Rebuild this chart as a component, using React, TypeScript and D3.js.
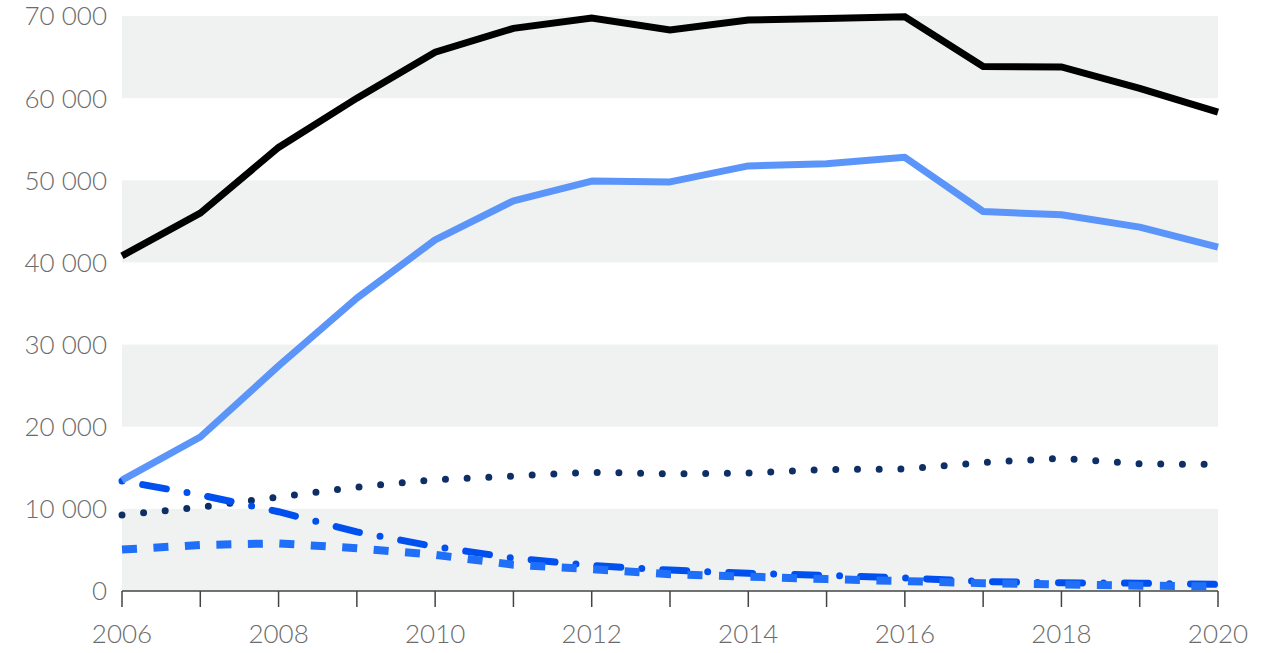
import React from "react";
import * as d3 from "d3";

const years = [2006, 2007, 2008, 2009, 2010, 2011, 2012, 2013, 2014, 2015, 2016, 2017, 2018, 2019, 2020];
const total = [40800, 46000, 54000, 60000, 65600, 68500, 69750, 68300, 69500, 69700, 69900, 63850, 63800, 61200, 58300];
const lightBlue = [13500, 18750, 27400, 35650, 42750, 47500, 49900, 49800, 51750, 52000, 52800, 46200, 45800, 44300, 41850];
const dotted = [9250, 10200, 11450, 12650, 13550, 14000, 14450, 14250, 14350, 14800, 14850, 15650, 16150, 15500, 15400];
const dashDot = [13400, 11700, 9650, 7200, 5400, 4000, 3100, 2550, 2150, 1900, 1600, 1150, 1000, 950, 800];
const dashed = [5050, 5600, 5800, 5200, 4400, 3200, 2650, 2050, 1750, 1450, 1200, 950, 800, 650, 550];
const yTicks = [0, 10000, 20000, 30000, 40000, 50000, 60000, 70000];
const xLabels = [2006, 2008, 2010, 2012, 2014, 2016, 2018, 2020];

export default function App() {
  const W = 1281, H = 653;
  const x = d3.scaleLinear().domain([2006, 2020]).range([122, 1218]);
  const y = d3.scaleLinear().domain([0, 70000]).range([591, 16]);
  const fmt = (v: number) => (v === 0 ? "0" : d3.format(",")(v).replace(/,/g, " "));
  const line = (vals: number[]) =>
    d3.line<number>().x((_, i) => x(years[i])).y((v) => y(v)).curve(d3.curveLinear)(vals) || "";
  const font = "Lato, 'Noto Sans', sans-serif";
  const bands = [0, 20000, 40000, 60000];
  return (
    <svg width={W} height={H} style={{ position: "absolute", left: 0, top: 0 }}>
      {bands.map((b) => (
        <rect key={b} x={x(2006)} y={y(b + 10000)} width={x(2020) - x(2006)} height={y(b) - y(b + 10000)} fill="#f0f2f2" />
      ))}
      {yTicks.map((t) => (
        <text key={t} x={107} y={y(t)} dy="0.36em" textAnchor="end" fontFamily={font} fontWeight={300} fontSize={26} fill="#6b6b6b">
          {fmt(t)}
        </text>
      ))}
      <line x1={x(2006)} x2={x(2020)} y1={y(0)} y2={y(0)} stroke="#444" strokeWidth={1.5} />
      {years.map((yr) => (
        <line key={yr} x1={x(yr)} x2={x(yr)} y1={y(0)} y2={y(0) + 16} stroke="#444" strokeWidth={1.5} />
      ))}
      {xLabels.map((yr) => (
        <text key={yr} x={x(yr)} y={643} textAnchor="middle" fontFamily={font} fontWeight={300} fontSize={26} fill="#6b6b6b">
          {yr}
        </text>
      ))}
      <path d={line(dotted)} fill="none" stroke="#0e2f66" strokeWidth={7} strokeLinecap="round" strokeDasharray="0 21.7" />
      <path d={line(dashDot)} fill="none" stroke="#0050f0" strokeWidth={7} strokeLinecap="round" strokeDasharray="0 21 24 21" />
      <path d={line(dashed)} fill="none" stroke="#1f6ff8" strokeWidth={8} strokeDasharray="15 16.5" />
      <path d={line(lightBlue)} fill="none" stroke="#5b95f9" strokeWidth={7} strokeLinejoin="round" />
      <path d={line(total)} fill="none" stroke="#000" strokeWidth={7} />
    </svg>
  );
}
